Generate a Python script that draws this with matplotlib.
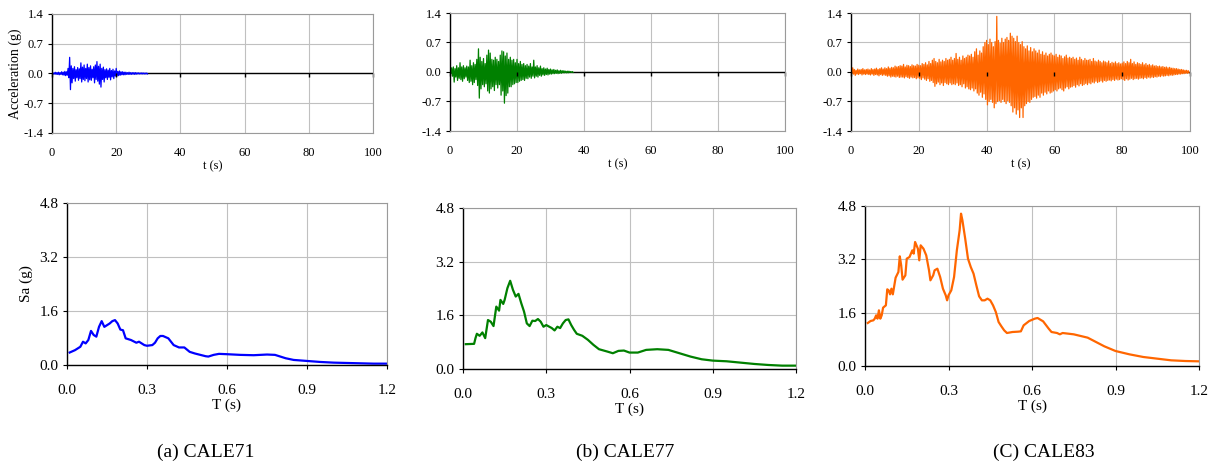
import numpy as np
import matplotlib
matplotlib.use("Agg")
import matplotlib.pyplot as plt

plt.rcParams["font.family"] = ["Liberation Serif", "DejaVu Serif"]

W, H = 1218, 465

# ground motion envelopes, one hi/lo pair every 0.5 s (g)
hi71 = [0.02, 0.01, 0.03, 0.02, 0.03, 0.02, 0.04, 0.03, 0.05, 0.04,
        0.12, 0.38, 0.18, 0.12, 0.16, 0.09, 0.14, 0.11, 0.25, 0.15,
        0.20, 0.12, 0.22, 0.14, 0.18, 0.10, 0.16, 0.20, 0.28, 0.17,
        0.22, 0.12, 0.15, 0.09, 0.11, 0.08, 0.12, 0.07, 0.10, 0.06,
        0.12, 0.05, 0.06, 0.04, 0.04, 0.03, 0.03, 0.02, 0.03, 0.02,
        0.02, 0.02, 0.02, 0.015, 0.015, 0.01, 0.015, 0.01, 0.01, 0.01]
lo71 = [-0.02, -0.01, -0.02, -0.02, -0.03, -0.02, -0.03, -0.04, -0.05, -0.04,
        -0.10, -0.38, -0.22, -0.12, -0.18, -0.10, -0.16, -0.12, -0.20, -0.14,
        -0.17, -0.12, -0.20, -0.15, -0.16, -0.10, -0.22, -0.14, -0.18, -0.25,
        -0.32, -0.14, -0.20, -0.10, -0.14, -0.09, -0.15, -0.08, -0.12, -0.06,
        -0.06, -0.05, -0.04, -0.03, -0.03, -0.03, -0.02, -0.02, -0.02, -0.02,
        -0.015, -0.02, -0.015, -0.01, -0.01, -0.01, -0.01, -0.01, -0.01, -0.01]

hi77 = [0.05, 0.10, 0.12, 0.08, 0.15, 0.10, 0.22, 0.12, 0.15, 0.10,
        0.14, 0.12, 0.28, 0.15, 0.22, 0.18, 0.30, 0.55, 0.35, 0.25,
        0.32, 0.20, 0.40, 0.52, 0.45, 0.30, 0.28, 0.35, 0.30, 0.25,
        0.40, 0.50, 0.48, 0.38, 0.45, 0.30, 0.35, 0.28, 0.30, 0.22,
        0.30, 0.20, 0.25, 0.18, 0.20, 0.15, 0.18, 0.14, 0.20, 0.12,
        0.28, 0.12, 0.15, 0.10, 0.14, 0.08, 0.10, 0.07, 0.09, 0.06,
        0.07, 0.05, 0.06, 0.04, 0.05, 0.03, 0.04, 0.03, 0.03, 0.02,
        0.02, 0.02, 0.01, 0.01]
lo77 = [-0.04, -0.10, -0.24, -0.12, -0.20, -0.15, -0.18, -0.22, -0.16, -0.12,
        -0.20, -0.25, -0.22, -0.30, -0.25, -0.18, -0.32, -0.62, -0.40, -0.30,
        -0.35, -0.28, -0.45, -0.50, -0.40, -0.35, -0.44, -0.30, -0.38, -0.30,
        -0.55, -0.45, -0.74, -0.56, -0.50, -0.35, -0.35, -0.30, -0.28, -0.25,
        -0.25, -0.22, -0.20, -0.18, -0.20, -0.15, -0.16, -0.12, -0.15, -0.10,
        -0.14, -0.10, -0.12, -0.08, -0.10, -0.07, -0.08, -0.06, -0.07, -0.05,
        -0.05, -0.04, -0.04, -0.03, -0.04, -0.03, -0.03, -0.02, -0.02, -0.02,
        -0.02, -0.01, -0.01, -0.01]

hi83 = [0.05, 0.10, 0.06, 0.04, 0.07, 0.05, 0.06, 0.08, 0.05, 0.06,
        0.07, 0.05, 0.08, 0.06, 0.07, 0.09, 0.06, 0.08, 0.10, 0.07,
        0.10, 0.08, 0.12, 0.09, 0.11, 0.10, 0.14, 0.12, 0.13, 0.15,
        0.14, 0.18, 0.12, 0.16, 0.15, 0.13, 0.17, 0.15, 0.14, 0.18,
        0.16, 0.15, 0.20, 0.18, 0.22, 0.17, 0.25, 0.20, 0.28, 0.32,
        0.25, 0.22, 0.30, 0.24, 0.28, 0.25, 0.32, 0.28, 0.30, 0.35,
        0.28, 0.32, 0.44, 0.30, 0.35, 0.28, 0.38, 0.32, 0.35, 0.40,
        0.38, 0.42, 0.35, 0.48, 0.55, 0.40, 0.50, 0.45, 0.60, 0.70,
        0.75, 0.65, 0.78, 0.70, 0.60, 0.72, 1.32, 0.75, 0.68, 0.80,
        0.70, 0.78, 0.82, 0.75, 0.92, 0.85, 0.80, 0.72, 0.85, 0.70,
        0.65, 0.72, 0.60, 0.55, 0.62, 0.50, 0.58, 0.48, 0.55, 0.50,
        0.45, 0.52, 0.42, 0.48, 0.40, 0.45, 0.38, 0.42, 0.45, 0.40,
        0.38, 0.42, 0.35, 0.40, 0.38, 0.32, 0.36, 0.40, 0.33, 0.35,
        0.32, 0.35, 0.30, 0.33, 0.28, 0.35, 0.30, 0.27, 0.32, 0.28,
        0.28, 0.30, 0.25, 0.32, 0.26, 0.24, 0.28, 0.25, 0.22, 0.26,
        0.24, 0.22, 0.26, 0.20, 0.23, 0.21, 0.24, 0.20, 0.22, 0.19,
        0.21, 0.24, 0.20, 0.25, 0.22, 0.30, 0.20, 0.24, 0.18, 0.22,
        0.20, 0.18, 0.22, 0.17, 0.20, 0.16, 0.18, 0.15, 0.17, 0.14,
        0.15, 0.13, 0.14, 0.12, 0.13, 0.11, 0.12, 0.10, 0.11, 0.09,
        0.09, 0.08, 0.08, 0.07, 0.06, 0.06, 0.05, 0.04, 0.04, 0.03]
lo83 = [-0.04, -0.05, -0.08, -0.05, -0.06, -0.04, -0.07, -0.05, -0.06, -0.05,
        -0.06, -0.07, -0.05, -0.08, -0.06, -0.07, -0.09, -0.06, -0.08, -0.07,
        -0.08, -0.10, -0.09, -0.12, -0.10, -0.11, -0.12, -0.10, -0.13, -0.12,
        -0.12, -0.14, -0.11, -0.13, -0.15, -0.12, -0.14, -0.13, -0.16, -0.14,
        -0.15, -0.18, -0.14, -0.17, -0.20, -0.16, -0.22, -0.20, -0.25, -0.34,
        -0.28, -0.24, -0.30, -0.26, -0.32, -0.25, -0.28, -0.30, -0.26, -0.30,
        -0.28, -0.30, -0.26, -0.32, -0.30, -0.35, -0.28, -0.38, -0.35, -0.40,
        -0.42, -0.38, -0.45, -0.40, -0.50, -0.55, -0.48, -0.60, -0.52, -0.65,
        -0.78, -0.70, -0.65, -0.72, -0.85, -0.75, -0.70, -0.68, -0.72, -0.65,
        -0.70, -0.75, -0.68, -0.72, -0.80, -0.95, -0.85, -1.00, -0.90, -1.08,
        -0.85, -1.08, -0.80, -0.75, -0.70, -0.72, -0.65, -0.60, -0.58, -0.62,
        -0.55, -0.60, -0.50, -0.55, -0.48, -0.52, -0.45, -0.50, -0.48, -0.45,
        -0.42, -0.45, -0.40, -0.38, -0.42, -0.45, -0.38, -0.35, -0.40, -0.36,
        -0.35, -0.32, -0.36, -0.30, -0.33, -0.28, -0.32, -0.30, -0.27, -0.30,
        -0.26, -0.28, -0.24, -0.26, -0.22, -0.25, -0.23, -0.21, -0.24, -0.20,
        -0.22, -0.20, -0.19, -0.21, -0.18, -0.20, -0.17, -0.19, -0.18, -0.16,
        -0.18, -0.20, -0.16, -0.19, -0.17, -0.15, -0.18, -0.16, -0.15, -0.17,
        -0.15, -0.14, -0.16, -0.13, -0.15, -0.12, -0.14, -0.12, -0.13, -0.11,
        -0.12, -0.10, -0.11, -0.09, -0.10, -0.09, -0.08, -0.09, -0.07, -0.08,
        -0.07, -0.06, -0.06, -0.05, -0.05, -0.04, -0.04, -0.03, -0.03, -0.02]

# response spectra (period s, Sa g)
T71 = [0.01, 0.03, 0.05, 0.06, 0.07, 0.08, 0.09, 0.10, 0.11, 0.12, 0.13, 0.14, 0.15,
       0.16, 0.17, 0.18, 0.19, 0.20, 0.21, 0.22, 0.24, 0.26, 0.27, 0.29, 0.30, 0.32,
       0.33, 0.34, 0.35, 0.36, 0.38, 0.40, 0.42, 0.44, 0.46, 0.48, 0.50, 0.52, 0.53,
       0.55, 0.57, 0.60, 0.65, 0.70, 0.75, 0.78, 0.80, 0.82, 0.85, 0.90, 0.95, 1.00,
       1.05, 1.10, 1.15, 1.20]
Sa71 = [0.37, 0.44, 0.54, 0.69, 0.64, 0.74, 1.01, 0.89, 0.84, 1.13, 1.30, 1.13, 1.18,
        1.23, 1.30, 1.33, 1.23, 1.05, 1.03, 0.79, 0.74, 0.66, 0.69, 0.59, 0.57, 0.59,
        0.66, 0.79, 0.86, 0.86, 0.79, 0.59, 0.52, 0.52, 0.39, 0.34, 0.30, 0.26, 0.25,
        0.30, 0.33, 0.32, 0.30, 0.29, 0.31, 0.30, 0.25, 0.20, 0.15, 0.12, 0.09, 0.07,
        0.06, 0.05, 0.04, 0.04]

T77 = [0.01, 0.04, 0.045, 0.05, 0.06, 0.07, 0.08, 0.09, 0.10, 0.11, 0.12, 0.13, 0.135,
       0.145, 0.15, 0.16, 0.17, 0.18, 0.19, 0.20, 0.21, 0.22, 0.23, 0.24, 0.25, 0.26,
       0.27, 0.28, 0.29, 0.30, 0.32, 0.33, 0.34, 0.35, 0.36, 0.37, 0.38, 0.39, 0.40,
       0.41, 0.43, 0.45, 0.47, 0.49, 0.52, 0.54, 0.56, 0.58, 0.60, 0.63, 0.66, 0.70,
       0.74, 0.78, 0.82, 0.86, 0.90, 0.95, 1.00, 1.05, 1.10, 1.15, 1.20]
Sa77 = [0.74, 0.75, 0.92, 1.05, 0.99, 1.09, 0.92, 1.46, 1.41, 1.28, 1.86, 1.74, 2.06,
        1.94, 2.06, 2.41, 2.63, 2.36, 2.16, 2.24, 1.96, 1.71, 1.36, 1.28, 1.44, 1.43,
        1.49, 1.41, 1.26, 1.31, 1.22, 1.15, 1.26, 1.22, 1.36, 1.46, 1.48, 1.31, 1.17,
        1.05, 0.99, 0.87, 0.72, 0.59, 0.52, 0.47, 0.54, 0.55, 0.49, 0.49, 0.57, 0.59,
        0.57, 0.47, 0.37, 0.29, 0.25, 0.23, 0.19, 0.15, 0.12, 0.10, 0.10]

T83 = [0.01, 0.02, 0.03, 0.035, 0.04, 0.045, 0.05, 0.055, 0.06, 0.065, 0.075, 0.08,
       0.085, 0.09, 0.095, 0.10, 0.11, 0.12, 0.125, 0.13, 0.135, 0.145, 0.15, 0.16,
       0.17, 0.175, 0.18, 0.19, 0.195, 0.20, 0.21, 0.22, 0.23, 0.235, 0.245, 0.25,
       0.26, 0.27, 0.28, 0.29, 0.295, 0.30, 0.31, 0.32, 0.33, 0.34, 0.345, 0.35, 0.36,
       0.37, 0.38, 0.39, 0.40, 0.41, 0.42, 0.43, 0.44, 0.45, 0.46, 0.47, 0.48, 0.49,
       0.50, 0.51, 0.53, 0.55, 0.56, 0.57, 0.59, 0.61, 0.62, 0.64, 0.66, 0.67, 0.69,
       0.70, 0.71, 0.75, 0.80, 0.83, 0.86, 0.90, 0.95, 1.00, 1.05, 1.10, 1.15, 1.20]
Sa83 = [1.29, 1.35, 1.37, 1.42, 1.52, 1.42, 1.67, 1.42, 1.52, 1.75, 1.82, 2.30,
        2.27, 2.15, 2.32, 2.15, 2.65, 2.82, 3.29, 3.02, 2.59, 2.72, 3.22, 3.27,
        3.47, 3.37, 3.72, 3.52, 3.17, 3.62, 3.52, 3.32, 2.87, 2.57, 2.72, 2.87,
        2.92, 2.67, 2.32, 2.12, 1.97, 2.12, 2.27, 2.67, 3.47, 4.07, 4.57, 4.37, 3.82,
        3.22, 2.97, 2.77, 2.42, 2.09, 1.97, 1.97, 2.02, 1.97, 1.82, 1.62, 1.32, 1.19,
        1.07, 0.99, 1.02, 1.03, 1.04, 1.22, 1.35, 1.42, 1.44, 1.34, 1.12, 1.02, 0.99,
        0.95, 0.99, 0.95, 0.85, 0.72, 0.59, 0.45, 0.35, 0.27, 0.22, 0.17, 0.15, 0.14]

records = ["(a) CALE71", "(b) CALE77", "(C) CALE83"]
colors = ["#0000ff", "#008000", "#ff6600"]

# pixel boxes (left, top, right, bottom) of each plot area
top_boxes = [(52, 14, 373, 133), (450, 13, 785, 131), (851, 13, 1190, 131)]
bot_boxes = [(67, 203, 387, 365), (463, 208, 796, 369), (865, 206, 1199, 366)]
caption_x = [206, 625, 1044]

GRID = "#c0c0c0"
fmt = matplotlib.ticker.FormatStrFormatter("%.1f")


def box(fig, b):
    l, t, r, bt = b
    return fig.add_axes([l / W, 1 - bt / H, (r - l) / W, (bt - t) / H])


def style(ax):
    ax.grid(True, color=GRID, lw=0.8)
    ax.set_axisbelow(True)
    for s in ("top", "right", "bottom"):
        ax.spines[s].set_color("#9a9a9a")
        ax.spines[s].set_linewidth(0.8)
    ax.spines["left"].set_color("black")
    ax.spines["left"].set_linewidth(1.0)
    ax.tick_params(axis="both", which="both", direction="out", length=3,
                   width=0.8, labelsize=9, pad=3)
    ax.tick_params(axis="x", length=0, pad=10)


def zigzag(hi, lo):
    t0 = np.arange(len(hi)) * 0.5
    t = np.column_stack([t0, t0 + 0.25]).ravel()
    a = np.column_stack([hi, lo]).ravel()
    return t, a


fig = plt.figure(figsize=(W / 100, H / 100), dpi=100)

acc = [(hi71, lo71), (hi77, lo77), (hi83, lo83)]
spectra = [(T71, Sa71), (T77, Sa77), (T83, Sa83)]

for i in range(3):
    ax = box(fig, top_boxes[i])
    style(ax)
    t, a = zigzag(*acc[i])
    ax.plot(t, a, color=colors[i], lw=0.9)
    ax.set_xlim(0, 100)
    ax.set_ylim(-1.4, 1.4)
    ax.set_xticks([0, 20, 40, 60, 80, 100])
    ax.set_yticks([-1.4, -0.7, 0.0, 0.7, 1.4])
    ax.yaxis.set_major_formatter(fmt)
    ax.axhline(0, color="black", lw=1.0, zorder=1)
    ax.plot(ax.get_xticks(), np.zeros(6), ls="none", marker=3, ms=3,
            color="black", mew=1.0, clip_on=False)
    ax.set_xlabel("t (s)", fontsize=9, labelpad=1)
    if i == 0:
        ax.set_ylabel("Acceleration (g)", fontsize=10, labelpad=1)

    ax = box(fig, bot_boxes[i])
    style(ax)
    ax.spines["bottom"].set_color("black")
    ax.spines["bottom"].set_linewidth(1.0)
    ax.tick_params(axis="x", length=3, pad=11, labelsize=11)
    ax.tick_params(axis="y", labelsize=11)
    ax.plot(*spectra[i], color=colors[i], lw=1.6)
    ax.set_xlim(0, 1.2)
    ax.set_ylim(0, 4.8)
    ax.set_xticks([0.0, 0.3, 0.6, 0.9, 1.2])
    ax.set_yticks([0.0, 1.6, 3.2, 4.8])
    ax.xaxis.set_major_formatter(fmt)
    ax.yaxis.set_major_formatter(fmt)
    ax.set_xlabel("T (s)", fontsize=11, labelpad=1)
    if i == 0:
        ax.set_ylabel("Sa (g)", fontsize=11, labelpad=5)

    fig.text(caption_x[i] / W, 1 - 452 / H, records[i], ha="center", va="center",
             fontsize=14)

fig.savefig("out.png", dpi=100)
